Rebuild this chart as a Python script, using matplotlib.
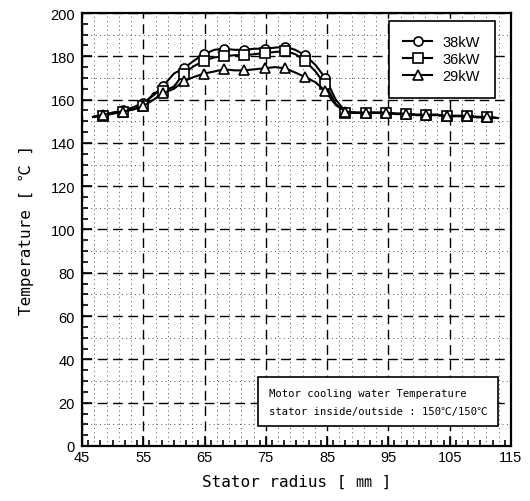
import numpy as np
import matplotlib
matplotlib.use("Agg")
import matplotlib.pyplot as plt
from matplotlib.ticker import MultipleLocator


# data (stator radius in mm, temperature in degC)
radius = [46.8, 48.4, 50.1, 51.7, 53.4, 55.0, 56.7, 58.3, 60.0, 61.6,
          63.3, 64.9, 66.6, 68.2, 69.9, 71.5, 73.2, 74.8, 76.5, 78.1,
          79.8, 81.4, 83.1, 84.7, 86.4, 88.0, 89.7, 91.3, 93.0, 94.6,
          96.3, 97.9, 99.6, 101.2, 102.9, 104.5, 106.2, 107.8, 109.5, 111.1,
          112.8]

temp_38kw = [152.0, 153.0, 154.0, 155.0, 156.5, 158.5, 162.0, 166.5, 172.0, 174.5,
             178.0, 181.0, 183.0, 183.5, 183.0, 183.0, 183.5, 183.5, 184.0, 184.5,
             183.0, 180.5, 176.0, 170.0, 160.0, 154.5, 154.0, 154.0, 154.0, 154.0,
             153.5, 153.5, 153.0, 153.0, 153.0, 152.5, 152.5, 152.5, 152.0, 152.0,
             151.5]

temp_36kw = [152.0, 152.5, 153.5, 154.5, 155.5, 157.0, 163.0, 164.0, 166.0, 172.0,
             175.5, 178.0, 179.5, 180.0, 180.5, 180.5, 181.0, 181.5, 182.0, 182.5,
             181.0, 178.0, 173.0, 167.0, 158.0, 154.0, 153.8, 153.8, 153.8, 153.8,
             153.3, 153.3, 152.8, 152.8, 152.8, 152.3, 152.3, 152.3, 151.8, 151.8,
             151.5]

temp_29kw = [152.0, 153.0, 154.0, 154.5, 155.5, 157.0, 160.0, 163.0, 165.0, 168.5,
             170.5, 172.0, 173.0, 174.0, 173.5, 173.5, 174.0, 174.5, 175.0, 174.5,
             172.5, 170.5, 168.0, 164.0, 157.5, 154.5, 154.0, 154.0, 154.0, 154.0,
             153.5, 153.5, 153.0, 153.0, 153.0, 152.5, 152.5, 152.5, 152.0, 152.0,
             151.5]

series = [("38kW", temp_38kw, "o"), ("36kW", temp_36kw, "s"), ("29kW", temp_29kw, "^")]

x_ticks = [45, 55, 65, 75, 85, 95, 105, 115]
y_ticks = [0, 20, 40, 60, 80, 100, 120, 140, 160, 180, 200]

tick_font = ["Liberation Sans", "DejaVu Sans"]
mono_font = ["DejaVu Sans Mono", "Noto Sans CJK KR"]


fig = plt.figure(figsize=(5.3, 5.02), dpi=100)
ax = fig.add_axes([0.1547, 0.1096, 0.8093, 0.8625])

# dotted minor grid, dashed major grid
for yv in range(10, 200, 20):
    ax.axhline(yv, color="0.3", lw=0.7, ls=(0, (1, 3.5)), zorder=0)
for xv in range(47, 115, 2):
    if (xv - 45) % 10 != 0:
        ax.axvline(xv, color="0.3", lw=0.7, ls=(0, (1, 3.5)), zorder=0)
ax.grid(True, which="major", color="black", lw=1.0, ls=(0, (7, 4)), zorder=0)

for label, temps, marker in series:
    ax.plot(radius, temps, color="black", lw=1.5, marker=marker, ms=6.5,
            mfc="white", mec="black", mew=1.2, markevery=(1, 2),
            label=label, zorder=3)

ax.set_xlim(45, 115)
ax.set_ylim(0, 200)
ax.set_xticks(x_ticks)
ax.set_yticks(y_ticks)
ax.xaxis.set_minor_locator(MultipleLocator(2))
ax.yaxis.set_minor_locator(MultipleLocator(5))
ax.tick_params(which="both", direction="in", width=1.2)
ax.tick_params(which="major", length=7)
ax.tick_params(which="minor", length=4)
ax.tick_params(axis="x", pad=3)
ax.tick_params(axis="y", pad=5)
for lab in ax.get_xticklabels() + ax.get_yticklabels():
    lab.set_family(tick_font)
    lab.set_fontsize(10.5)
for sp in ax.spines.values():
    sp.set_linewidth(1.6)

ax.set_xlabel("Stator radius [ ㎜ ]", family=mono_font, fontsize=11.5, labelpad=7)
ax.set_ylabel("Temperature [ ℃ ]", family=mono_font, fontsize=11.5, labelpad=12)

leg = ax.legend(loc="upper right", bbox_to_anchor=(0.962, 0.982), frameon=True,
                fancybox=False, edgecolor="black", framealpha=1,
                prop={"family": tick_font, "size": 10.5},
                handlelength=2.0, handletextpad=0.7, labelspacing=0.2,
                borderpad=1.0, borderaxespad=0)
leg.get_frame().set_linewidth(1.2)

ax.text(75.5, 20.5,
        "Motor cooling water Temperature\nstator inside/outside : 150℃/150℃",
        family=mono_font, fontsize=7.6, linespacing=2.0, va="center", ha="left",
        zorder=5,
        bbox=dict(boxstyle="square,pad=1.0", fc="white", ec="black", lw=1.2))

fig.savefig("out.png", dpi=100)
